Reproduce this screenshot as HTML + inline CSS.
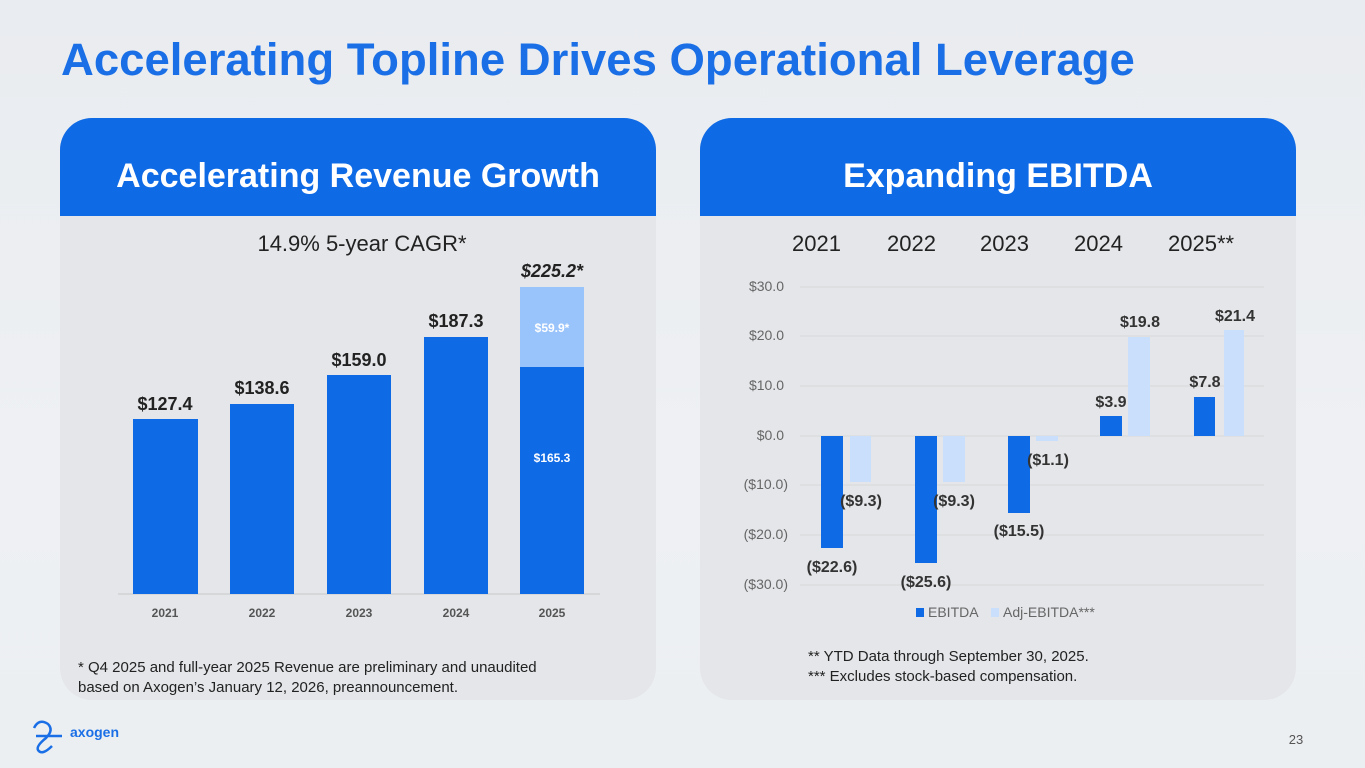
<!DOCTYPE html>
<html><head><meta charset="utf-8"><style>
body{margin:0;width:1365px;height:768px;overflow:hidden;font-family:"Liberation Sans",Arial,sans-serif;background:linear-gradient(180deg,#e9ecf0,#eef0f3 60%,#eceff2);position:relative}
.t{position:absolute;white-space:nowrap}
.panel{position:absolute;top:118px;height:582px;width:596px;border-radius:32px;background:#e4e6e9;overflow:hidden}
.hd{height:98px;background:#0f6ae6;color:#fff;font-weight:bold;font-size:34px;text-align:center;line-height:116px}
</style></head><body>
<div class="t" style="left:61px;top:34px;font-size:45.5px;font-weight:bold;color:#1a6fe6">Accelerating Topline Drives Operational Leverage</div>
<div class="panel" style="left:60px"><div class="hd">Accelerating Revenue Growth</div></div>
<div class="panel" style="left:700px"><div class="hd">Expanding EBITDA</div></div>
<svg width="1365" height="768" style="position:absolute;left:0;top:0" font-family="Liberation Sans,Arial,sans-serif">
<text x="362" y="251" font-size="22" text-anchor="middle" fill="#222">14.9% 5-year CAGR*</text>
<line x1="118" y1="594" x2="600" y2="594" stroke="#c8c8c8"/>
<g fill="#0f6ae6">
<rect x="133" y="419" width="65" height="175"/><rect x="230" y="404" width="64" height="190"/><rect x="327" y="375" width="64" height="219"/><rect x="424" y="337" width="64" height="257"/><rect x="520" y="367" width="64" height="227"/></g>
<rect x="520" y="287" width="64" height="80" fill="#99c3fb"/>
<g font-size="18" font-weight="bold" fill="#222" text-anchor="middle">
<text x="165" y="410">$127.4</text><text x="262" y="394">$138.6</text><text x="359" y="366">$159.0</text><text x="456" y="327">$187.3</text><text x="552" y="277" font-style="italic">$225.2*</text></g>
<text x="552" y="332" font-size="12" font-weight="bold" fill="#fff" text-anchor="middle">$59.9*</text>
<text x="552" y="462" font-size="12" font-weight="bold" fill="#fff" text-anchor="middle">$165.3</text>
<g font-size="12" font-weight="bold" fill="#555" text-anchor="middle"><text x="165" y="617">2021</text><text x="262" y="617">2022</text><text x="359" y="617">2023</text><text x="456" y="617">2024</text><text x="552" y="617">2025</text></g>
<text x="78" y="672" font-size="15" fill="#222">* Q4 2025 and full-year 2025 Revenue are preliminary and unaudited</text>
<text x="78" y="692" font-size="15" fill="#222">based on Axogen’s January 12, 2026, preannouncement.</text>
<g font-size="22" fill="#222"><text x="792" y="251">2021</text><text x="887" y="251">2022</text><text x="980" y="251">2023</text><text x="1074" y="251">2024</text><text x="1168" y="251">2025**</text></g>
<g stroke="#d8d8d8"><line x1="800" y1="287" x2="1264" y2="287"/><line x1="800" y1="336" x2="1264" y2="336"/><line x1="800" y1="386" x2="1264" y2="386"/><line x1="800" y1="436" x2="1264" y2="436"/><line x1="800" y1="485" x2="1264" y2="485"/><line x1="800" y1="535" x2="1264" y2="535"/><line x1="800" y1="585" x2="1264" y2="585"/></g>
<g font-size="14" fill="#666" text-anchor="end"><text x="784" y="291">$30.0</text><text x="784" y="340">$20.0</text><text x="784" y="390">$10.0</text><text x="784" y="440">$0.0</text><text x="788" y="489">($10.0)</text><text x="788" y="539">($20.0)</text><text x="788" y="589">($30.0)</text></g>
<g fill="#0f6ae6"><rect x="821" y="436" width="22" height="112"/><rect x="915" y="436" width="22" height="127"/><rect x="1008" y="436" width="22" height="77"/><rect x="1100" y="416" width="22" height="20"/><rect x="1194" y="397" width="21" height="39"/></g>
<g fill="#c9dffb"><rect x="850" y="436" width="21" height="46"/><rect x="943" y="436" width="22" height="46"/><rect x="1036" y="436" width="22" height="5"/><rect x="1128" y="337" width="22" height="99"/><rect x="1224" y="330" width="20" height="106"/></g>
<g font-size="16" font-weight="bold" fill="#333" text-anchor="middle">
<text x="832" y="572">($22.6)</text><text x="926" y="587">($25.6)</text><text x="1019" y="536">($15.5)</text><text x="1111" y="407">$3.9</text><text x="1205" y="387">$7.8</text>
<text x="861" y="506">($9.3)</text><text x="954" y="506">($9.3)</text><text x="1048" y="465">($1.1)</text><text x="1140" y="327">$19.8</text><text x="1235" y="321">$21.4</text></g>
<rect x="916" y="608" width="8" height="9" fill="#0f6ae6"/><text x="928" y="617" font-size="14" fill="#666">EBITDA</text>
<rect x="991" y="608" width="8" height="9" fill="#c9dffb"/><text x="1003" y="617" font-size="14" fill="#666">Adj-EBITDA***</text>
<text x="808" y="661" font-size="15" fill="#222">** YTD Data through September 30, 2025.</text>
<text x="808" y="681" font-size="15" fill="#222">*** Excludes stock-based compensation.</text>
<path d="M34 728 q5-10 14-4 q6 6 -2 14 q-10 8 -8 12 q4 6 14 -4 M36 736 h26" stroke="#1a6fe6" stroke-width="2.5" fill="none"/>
<text x="70" y="737" font-size="14" font-weight="bold" fill="#1a6fe6">axogen</text>
<text x="1296" y="744" font-size="13" fill="#555" text-anchor="middle">23</text>
</svg>
</body></html>
